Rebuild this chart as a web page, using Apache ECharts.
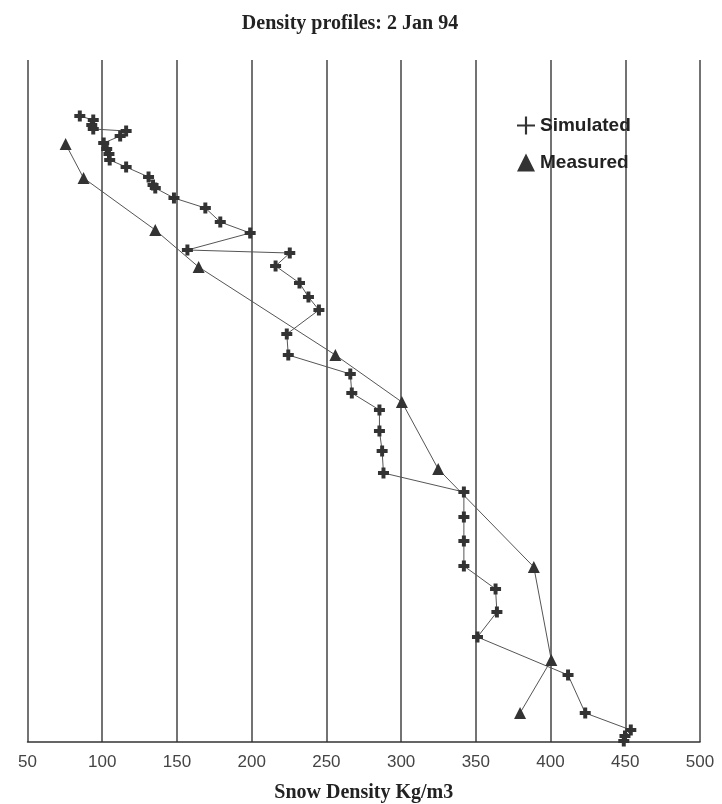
<!DOCTYPE html>
<html>
<head>
<meta charset="utf-8">
<script src="https://cdn.jsdelivr.net/npm/echarts@6/dist/echarts.min.js"></script>
<style>
html,body{margin:0;padding:0;background:#fff;}
#c{width:722px;height:804px;}
</style>
</head>
<body>
<div id="c"></div>
<script>
// Snow density (kg/m3) and height above ground (cm)
var simDensity = [85, 94, 93, 94, 116, 112, 101, 103, 104.5, 105, 116, 131, 134, 135.5, 148, 169, 179, 199, 157, 225.5, 216, 232, 238, 245, 223.5, 224.5, 266, 267, 285.5, 285.5, 287.3, 288.2, 342, 342, 342, 342, 363.2, 364.1, 351.1, 411.7, 423.2, 453.7, 449.8, 449];
var simHeight = [156.5, 155.5, 154.25, 153.25, 152.75, 151.5, 149.75, 148.25, 147, 145.5, 143.75, 141.25, 139.25, 138.5, 136, 133.5, 130, 127.25, 123, 122.25, 119, 114.75, 111.25, 108, 102, 96.75, 92, 87.25, 83, 77.75, 72.75, 67.25, 62.5, 56.25, 50.25, 44, 38.25, 32.5, 26.25, 16.75, 7.25, 3, 1.5, 0.25];
var measDensity = [75.5, 87.5, 135.5, 164.5, 256, 300.5, 324.8, 388.8, 400.5, 379.6];
var measHeight = [149.5, 141, 128, 118.75, 96.75, 85, 68.25, 43.75, 20.5, 7.25];
var xTicks = [50, 100, 150, 200, 250, 300, 350, 400, 450, 500];

function pairs(xs, ys){ return xs.map(function(v,i){ return [v, ys[i]]; }); }

var chart = echarts.init(document.getElementById('c'), null, {renderer:'canvas'});
var plusBlob = 'path://M3.2,0H6.8V3.2H10V6.8H6.8V10H3.2V6.8H0V3.2H3.2Z';
var plusThin = 'path://M4.4,0H5.6V4.4H10V5.6H5.6V10H4.4V5.6H0V4.4H4.4Z';
chart.setOption({
  animation:false,
  backgroundColor:'#fff',
  title:{
    text:'Density profiles: 2 Jan 94',
    left:345, top:9, textAlign:'center',
    textStyle:{fontFamily:'Liberation Serif', fontWeight:'bold', fontSize:20, color:'#222'}
  },
  legend:{
    orient:'vertical', left:512, top:111, itemWidth:18, itemHeight:18, itemGap:18,
    textStyle:{fontFamily:'Liberation Sans', fontWeight:'bold', fontSize:19, color:'#222'},
    data:[{name:'Simulated', icon:plusThin},{name:'Measured', icon:'triangle'}]
  },
  grid:{left:27.5, right:22, top:60, bottom:62, containLabel:false, outerBoundsMode:'none'},
  xAxis:{
    type:'value', min:50, max:500, interval:50,
    name:'Snow Density Kg/m3', nameLocation:'middle', nameGap:41,
    nameTextStyle:{fontFamily:'Liberation Serif', fontWeight:'bold', fontSize:20, color:'#222'},
    axisLine:{show:true, lineStyle:{color:'#333', width:1.5}},
    axisTick:{show:false},
    axisLabel:{margin:12, fontFamily:'Liberation Sans', fontSize:17, color:'#444',
      formatter:function(v){ return xTicks.indexOf(v)>=0 ? String(v) : ''; }},
    splitLine:{show:true, lineStyle:{color:'#444', width:1.5}}
  },
  yAxis:{
    type:'value', min:0, max:170.5,
    axisLine:{show:false}, axisTick:{show:false}, axisLabel:{show:false}, splitLine:{show:false}
  },
  series:[
    {
      name:'Simulated', type:'line', data:pairs(simDensity, simHeight),
      symbol:plusBlob, symbolSize:11, showAllSymbol:true,
      lineStyle:{color:'#555', width:1},
      itemStyle:{color:'#333'}
    },
    {
      name:'Measured', type:'line', data:pairs(measDensity, measHeight),
      symbol:'triangle', symbolSize:12, showAllSymbol:true,
      lineStyle:{color:'#555', width:1},
      itemStyle:{color:'#333'}
    }
  ]
});
</script>
</body>
</html>
